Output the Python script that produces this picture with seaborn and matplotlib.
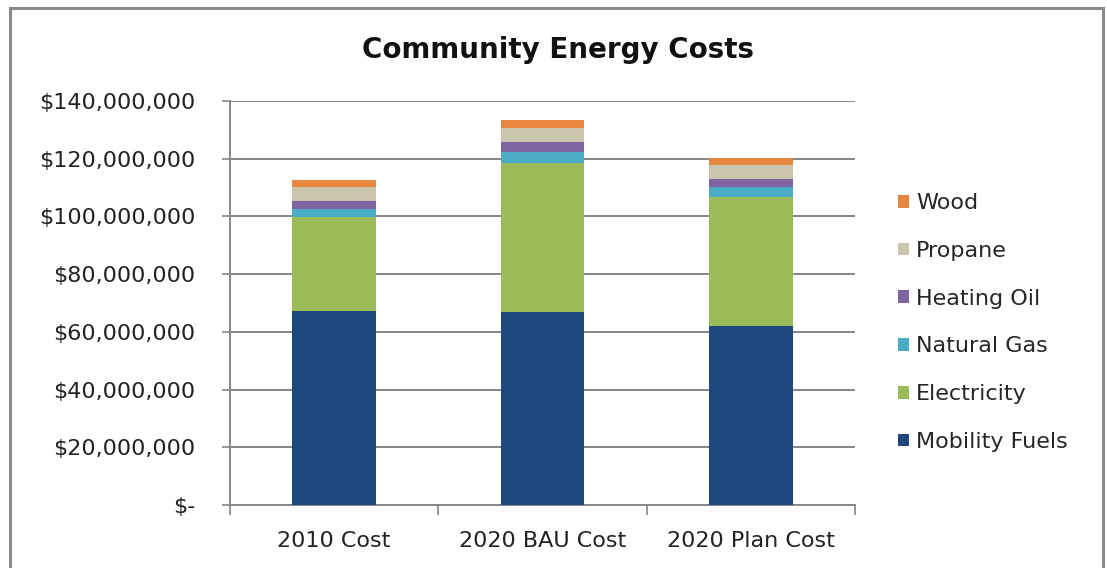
import matplotlib
matplotlib.use("Agg")
import matplotlib.pyplot as plt
import matplotlib.patches as mpatches
from matplotlib.ticker import FuncFormatter, MultipleLocator
import numpy as np
import pandas as pd
import seaborn as sns

# Community energy costs by fuel, in millions of dollars
categories = ["2010 Cost", "2020 BAU Cost", "2020 Plan Cost"]
mobility_fuels = [67.3, 66.9, 62.1]
electricity = [32.5, 51.6, 44.6]
natural_gas = [2.8, 3.8, 3.5]
heating_oil = [2.8, 3.5, 2.8]
propane = [4.9, 4.9, 4.9]
wood = [2.4, 2.8, 2.4]

series_names = ["Mobility Fuels", "Electricity", "Natural Gas", "Heating Oil", "Propane", "Wood"]
series_values = [mobility_fuels, electricity, natural_gas, heating_oil, propane, wood]
colors = ["#1f497d", "#9bbb59", "#4bacc6", "#8064a2", "#c9c6ad", "#e8873f"]

sns.set_theme(style="white")
plt.rcParams["font.family"] = ["DejaVu Sans"]

fig = plt.figure(figsize=(11.07, 5.68), dpi=100)
ax = fig.add_axes([230 / 1107, 1 - 505 / 568, 625 / 1107, 404 / 568])

# Stacked bars: draw cumulative totals from the tallest down so each layer shows
cum = np.cumsum(np.array(series_values) * 1e6, axis=0)
for i in range(len(series_names) - 1, -1, -1):
    df = pd.DataFrame({"cat": categories, "val": cum[i]})
    sns.barplot(data=df, x="cat", y="val", color=colors[i], width=0.4,
                saturation=1, ax=ax, zorder=3, linewidth=0)

ax.set_ylim(0, 140e6)
ax.set_xlim(-0.5, 2.5)
ax.yaxis.set_major_locator(MultipleLocator(20e6))
ax.yaxis.set_major_formatter(FuncFormatter(lambda v, p: "$-" if v == 0 else f"${v:,.0f}"))
ax.grid(axis="y", color="#868686", linewidth=1.4, zorder=0)
ax.set_xlabel("")
ax.set_ylabel("")

for s in ["top", "right"]:
    ax.spines[s].set_visible(False)
for s in ["left", "bottom"]:
    ax.spines[s].set_color("#868686")
    ax.spines[s].set_linewidth(1.4)

ax.tick_params(axis="y", left=True, length=6, width=1.2, color="#868686",
               labelsize=16, pad=19, labelcolor="#222222")
ax.set_xticks([0, 1, 2])
ax.set_xticklabels(categories, fontsize=16, color="#222222")
ax.tick_params(axis="x", bottom=False, pad=13)
# Category separators below the axis
ax.set_xticks([-0.5, 0.5, 1.5, 2.5], minor=True)
ax.tick_params(axis="x", which="minor", bottom=True, length=7, width=1.2, color="#868686")

fig.text(558 / 1107, 1 - 50 / 568, "Community Energy Costs", ha="center", va="center",
         fontsize=20, fontweight="bold", color="#111111")

handles = [mpatches.Patch(facecolor=colors[i], edgecolor="none", label=series_names[i])
           for i in range(len(series_names) - 1, -1, -1)]
fig.legend(handles=handles, loc="upper left", bbox_to_anchor=(887 / 1107, 1 - 182 / 568),
           frameon=False, fontsize=16, handlelength=0.5, handleheight=0.5,
           handletextpad=0.3, labelspacing=1.25, borderpad=0)

# Outer chart frame
fig.patches.append(mpatches.Rectangle((10 / 1107, -0.05), 1093 / 1107, 1.05 - 8 / 568,
                                      transform=fig.transFigure, fill=False,
                                      edgecolor="#8a8a8a", linewidth=2.2))

fig.savefig("out.png", dpi=100, facecolor="white")
